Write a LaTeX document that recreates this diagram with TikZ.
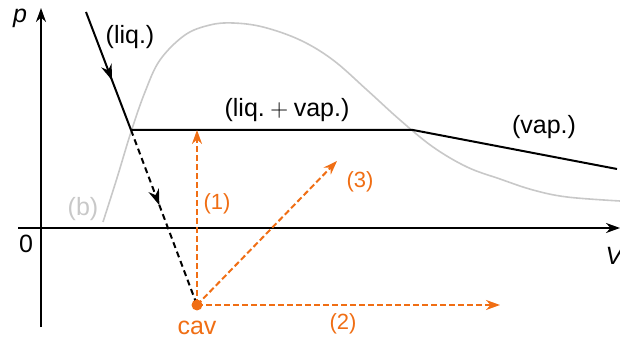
\documentclass[tikz,border=0pt]{standalone}
\usepackage{fontspec}
\setmainfont{Liberation Sans}
\usetikzlibrary{arrows.meta,decorations.markings}
\definecolor{cavorange}{RGB}{240,110,20}
\definecolor{bgray}{RGB}{200,200,200}
\tikzset{
  midarrow/.style={postaction={decorate,decoration={markings,
      mark=at position #1 with {\arrow{Stealth[length=8pt,width=5.5pt]}}}}},
  cavpath/.style={cavorange,line width=1pt,dash pattern=on 3pt off 1.5pt,
      -{Stealth[length=7pt,width=5pt]}},
  lbl/.style={font=\fontsize{12.5}{14}\selectfont},
  numlbl/.style={font=\fontsize{11}{13}\selectfont,text=cavorange}
}
\begin{document}
\begin{tikzpicture}[x=0.5pt,y=-0.5pt]
  \useasboundingbox (0,0) rectangle (620,341);
  % points of the path
  \coordinate (liqtop) at (86,12);
  \coordinate (A) at (131,130);
  \coordinate (B) at (413,130);
  \coordinate (vapend) at (617,169);
  \coordinate (cav) at (197,305);
  \coordinate (t1) at (197,130);
  \coordinate (t2) at (500,305);
  \coordinate (t3) at (337,161);
  % draw axes
  \coordinate (xl) at (18,228);
  \coordinate (xr) at (620,228);
  \coordinate (yb) at (41,327);
  \coordinate (yt) at (41,8);
  \draw[line width=1pt,-{Stealth[length=7pt,width=5pt]}] (xl) -- (xr);
  \draw[line width=1pt,-{Stealth[length=7pt,width=5pt]}] (yb) -- (yt);
  \node[lbl] (plab) at (20,18) {\textit{p}};
  \node[lbl] (vlab) at (615,256) {\textit{V}};
  \node[lbl] (zero) at (26,244) {0};
  % draw binodal curve
  \draw[bgray,line width=0.8pt] plot[smooth,tension=0.6] coordinates {
    (103,222) (117,178) (131,132) (145,92) (160,60) (185,35) (210,25)
    (233,23) (263,27) (300,40) (333,60) (367,90) (400,120) (433,147)
    (467,167) (500,179) (533,190) (567,197) (620,201)};
  \node[lbl,text=bgray] (blab) at (83,209) {(b)};
  % draw isotherm
  \draw[line width=1pt,midarrow=0.58] (liqtop) -- (A);
  \draw[line width=1pt] (A) -- (B) -- (vapend);
  \draw[line width=1pt,dash pattern=on 3pt off 2pt,midarrow=0.43] (A) -- (cav);
  \node[lbl] (liq) at (130,37) {(liq.)};
  \node[lbl] (mix) at (287,110) {(liq.${}+{}$vap.)};
  \node[lbl] (vap) at (544,127) {(vap.)};
  % draw the three ways out of cavitation
  \draw[cavpath] (cav) -- (t1);
  \draw[cavpath] (cav) -- (t2);
  \draw[cavpath] (cav) -- (t3);
  \fill[cavorange] (cav) circle (5.5);
  \node[lbl,text=cavorange] (cavlab) at (197,328) {cav};
  \node[numlbl] (one) at (217,204) {(1)};
  \node[numlbl] (two) at (343,324) {(2)};
  \node[numlbl] (three) at (360,182) {(3)};
\end{tikzpicture}
\end{document}
